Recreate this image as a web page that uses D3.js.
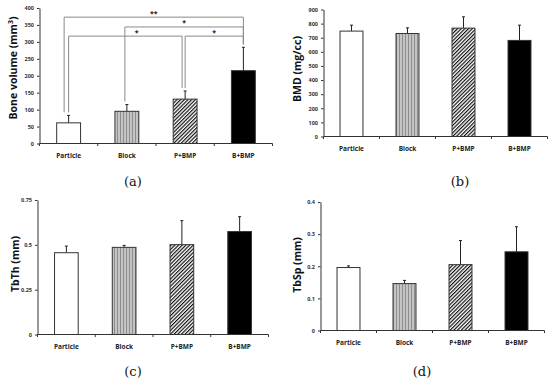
<!DOCTYPE html>
<html>
<head>
<meta charset="utf-8">
<script src="https://cdn.jsdelivr.net/npm/d3@7"></script>
<style>
  body { margin: 0; background: #fff; }
  svg { display: block; font-family: "Open Sans", "DejaVu Sans", sans-serif; }
</style>
</head>
<body>
<svg id="fig" width="550" height="381"></svg>
<script>
// groups on the x axis
const groups = ["Particle", "Block", "P+BMP", "B+BMP"];

// (a) bone volume, mm3
const boneVolume = [61, 95, 131, 215];
const boneVolumeSd = [22, 20, 24, 69];
const boneVolumeTicks = [0, 50, 100, 150, 200, 250, 300, 350, 400];

// (b) BMD, mg/cc
const bmd = [747, 730, 768, 681];
const bmdSd = [42, 40, 80, 108];
const bmdTicks = [0, 100, 200, 300, 400, 500, 600, 700, 800, 900];

// (c) TbTh, mm
const tbTh = [0.456, 0.486, 0.501, 0.574];
const tbThSd = [0.037, 0.011, 0.134, 0.083];
const tbThTicks = [0, 0.25, 0.5, 0.75];

// (d) TbSp, mm
const tbSp = [0.196, 0.146, 0.205, 0.245];
const tbSpSd = [0.005, 0.010, 0.075, 0.078];
const tbSpTicks = [0, 0.1, 0.2, 0.3, 0.4];

// significance brackets on (a): group index from/to, height in data units
const sigBrackets = [
    { from: 0, to: 3, y: 373, label: "**" },
    { from: 1, to: 3, y: 344, label: "*" },
    { from: 0, to: 2, y: 317, label: "*" },
    { from: 2, to: 3, y: 317, label: "*" }
];

const svg = d3.select("#fig");

// fill patterns
const defs = svg.append("defs");
let stripes = defs.append("pattern")
    .attr("id", "vstripe").attr("patternUnits", "userSpaceOnUse")
    .attr("width", 3).attr("height", 3);
stripes.append("rect").attr("width", 3).attr("height", 3).attr("fill", "#c4c4c4");
stripes.append("line").attr("x1", 0.5).attr("x2", 0.5).attr("y1", 0).attr("y2", 3)
    .attr("stroke", "#8e8e8e").attr("stroke-width", 1);

let hatch = defs.append("pattern")
    .attr("id", "diag").attr("patternUnits", "userSpaceOnUse")
    .attr("width", 2.6).attr("height", 2.6)
    .attr("patternTransform", "rotate(45)");
hatch.append("rect").attr("width", 2.6).attr("height", 2.6).attr("fill", "#fff");
hatch.append("line").attr("x1", 0.6).attr("x2", 0.6).attr("y1", 0).attr("y2", 2.6)
    .attr("stroke", "#111").attr("stroke-width", 1.2);

const fills = ["#fff", "url(#vstripe)", "url(#diag)", "#000"];

function drawPanel(cfg) {
    let g = svg.append("g");

    let x = d3.scaleBand().domain(groups).range([cfg.left, cfg.right]).padding(0);
    let y = d3.scaleLinear().domain([cfg.ticks[0], cfg.ticks[cfg.ticks.length - 1]])
        .range([cfg.bottom, cfg.top]);
    let barW = x.bandwidth() * 0.41;
    let cx = d => x(d) + x.bandwidth() / 2;

    // y axis
    let yAxis = d3.axisLeft(y).tickValues(cfg.ticks).tickSize(2.5).tickSizeOuter(0)
        .tickPadding(3).tickFormat(d => String(d));
    let ay = g.append("g").attr("transform", `translate(${cfg.left},0)`).call(yAxis);
    ay.attr("font-family", null);
    ay.select(".domain").attr("stroke", "#333");
    ay.selectAll(".tick line").attr("stroke", "#333");
    ay.selectAll("text").attr("font-size", 5.5).attr("font-weight", "bold").attr("fill", "#333");

    // x axis: line plus ticks at band edges
    g.append("line").attr("x1", cfg.left).attr("x2", cfg.right)
        .attr("y1", cfg.bottom).attr("y2", cfg.bottom).attr("stroke", "#333");
    let edges = groups.map(d => x(d)).concat([cfg.right]);
    g.selectAll(".xtick").data(edges).enter().append("line")
        .attr("x1", d => d).attr("x2", d => d)
        .attr("y1", cfg.bottom).attr("y2", cfg.bottom + 2.5)
        .attr("stroke", "#333");
    g.selectAll(".xlab").data(groups).enter().append("text")
        .attr("x", cx).attr("y", cfg.bottom + 14)
        .attr("text-anchor", "middle").attr("font-size", 6.5).attr("font-weight", "bold")
        .attr("fill", "#222").text(d => d);

    // error bars (upper only)
    g.selectAll(".err").data(groups).enter().append("line")
        .attr("x1", cx).attr("x2", cx)
        .attr("y1", (d, i) => y(cfg.values[i]))
        .attr("y2", (d, i) => y(cfg.values[i] + cfg.sd[i]))
        .attr("stroke", "#222").attr("stroke-width", 1);
    g.selectAll(".cap").data(groups).enter().append("line")
        .attr("x1", d => cx(d) - 1.5).attr("x2", d => cx(d) + 1.5)
        .attr("y1", (d, i) => y(cfg.values[i] + cfg.sd[i]))
        .attr("y2", (d, i) => y(cfg.values[i] + cfg.sd[i]))
        .attr("stroke", "#222").attr("stroke-width", 1);

    // bars
    g.selectAll(".bar").data(groups).enter().append("rect")
        .attr("x", d => cx(d) - barW / 2)
        .attr("y", (d, i) => y(cfg.values[i]))
        .attr("width", barW)
        .attr("height", (d, i) => cfg.bottom - y(cfg.values[i]))
        .attr("fill", (d, i) => fills[i])
        .attr("stroke", "#333").attr("stroke-width", 1);

    // y title
    let t = g.append("text")
        .attr("transform", `translate(${cfg.titleX},${cfg.titleY}) rotate(-90)`)
        .attr("text-anchor", "middle").attr("font-size", 10.5).attr("font-weight", "bold")
        .attr("fill", "#111");
    t.append("tspan").text(cfg.title);
    if (cfg.titleSup) {
        t.append("tspan").attr("font-size", 7).attr("dy", -4).text(cfg.titleSup);
        t.append("tspan").attr("dy", 4).text(")");
    }

    // panel label
    g.append("text").attr("x", cfg.labelX).attr("y", cfg.labelY)
        .attr("text-anchor", "middle").attr("font-size", 13)
        .style("font-family", "'DejaVu Serif', 'Liberation Serif', serif")
        .attr("fill", "#111").text(cfg.label);

    return { x, y, cx };
}

let pa = drawPanel({
    left: 39.5, right: 272.5, top: 8, bottom: 143.5,
    values: boneVolume, sd: boneVolumeSd, ticks: boneVolumeTicks,
    title: "Bone volume (mm", titleSup: "3", titleX: 17, titleY: 68,
    label: "(a)", labelX: 133, labelY: 186
});

drawPanel({
    left: 323.5, right: 547.5, top: 9.5, bottom: 136.5,
    values: bmd, sd: bmdSd, ticks: bmdTicks,
    title: "BMD (mg/cc)", titleX: 301, titleY: 69,
    label: "(b)", labelX: 460, labelY: 186
});

drawPanel({
    left: 37.5, right: 268.5, top: 200, bottom: 334.5,
    values: tbTh, sd: tbThSd, ticks: tbThTicks,
    title: "TbTh (mm)", titleX: 19, titleY: 264,
    label: "(c)", labelX: 133, labelY: 376
});

drawPanel({
    left: 320.5, right: 544.5, top: 202, bottom: 330.5,
    values: tbSp, sd: tbSpSd, ticks: tbSpTicks,
    title: "TbSp (mm)", titleX: 301, titleY: 265,
    label: "(d)", labelX: 422, labelY: 376
});

// significance brackets on (a)
let sig = svg.append("g");
sigBrackets.forEach(b => {
    // legs sitting next to another bracket's leg are nudged left a little
    let x1 = pa.cx(groups[b.from]) + (b.from === 0 && b.to === 3 ? -4.5 : 0) + (b.from === 1 ? -2 : 0);
    let x2 = pa.cx(groups[b.to]) + (b.to === 2 ? -3 : 0);
    let yy = pa.y(b.y);
    let top1 = pa.y(boneVolume[b.from] + boneVolumeSd[b.from]) - 3;
    let top2 = pa.y(boneVolume[b.to] + boneVolumeSd[b.to]) - 3;
    sig.append("path")
        .attr("d", `M${x1},${top1}V${yy}H${x2}V${top2}`)
        .attr("fill", "none").attr("stroke", "#8a8a8a").attr("stroke-width", 1);
    let lx = b.from === 0 && b.to === 2 ? x1 + (x2 - x1) * 0.6 : (x1 + x2) / 2;
    sig.append("text").attr("x", lx).attr("y", yy - 1.5)
        .attr("text-anchor", "middle").attr("font-size", 7).attr("font-weight", "bold")
        .attr("fill", "#222").text(b.label);
});
</script>
</body>
</html>
